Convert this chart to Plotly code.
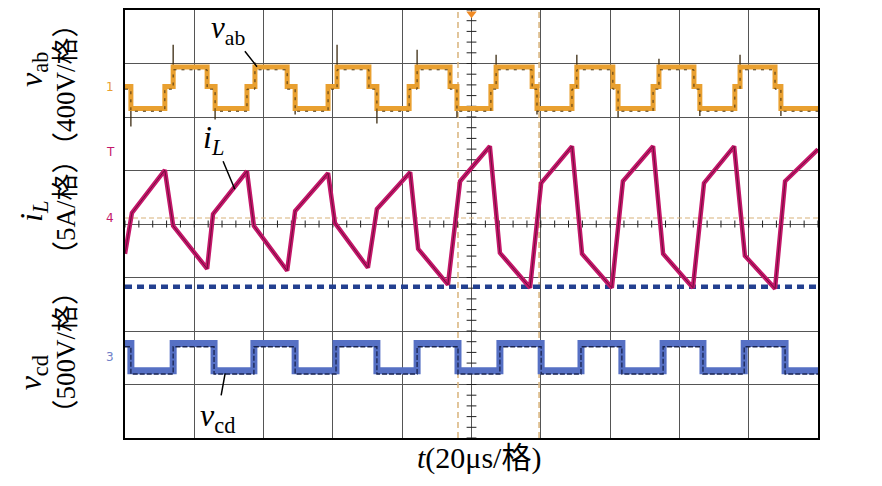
import plotly.graph_objects as go

# ---------------- data (oscilloscope capture, 20 us/div) ----------------
# v_ab : three-level voltage, 400 V/div
vab_times = [0, 1.7, 11.5, 13.9, 23.7, 26.0, 35.2, 37.5, 46.8, 49.1, 58.6, 61.2,
             70.4, 72.7, 82.0, 84.3, 93.8, 95.8, 105.6, 107.1, 117.5, 118.9,
             129.0, 130.4, 140.8, 142.3, 152.4, 154.1, 164.2, 165.9, 176.0,
             177.5, 187.6, 189.3, 200]
vab_volts = [0, -165, 0, 145, 0, -165, 0, 145, 0, -165, 0, 145,
             0, -165, 0, 145, 0, -165, 0, 145, 0, -165,
             0, 145, 0, -165, 0, 145, 0, -165, 0,
             145, 0, -165, -165]
# switching overshoot spikes of v_ab
vab_spike_times = [1.7, 13.9, 26.0, 37.5, 49.1, 61.2, 72.7, 84.3, 95.8, 107.1,
                   118.9, 130.4, 142.3, 154.1, 165.9, 177.5, 189.3]
vab_spike_base = [0, 0, 0, 0, 0, 0, 0, 0, 0, 0, 0, 0, 0, 0, 0, 0, 0]
vab_spike_peak = [-299, 312, -247, 180, -210, 312, -276, 274, -230, 237,
                  -210, 237, -231, 207, -220, 237, -220]

# i_L : inductor current, 5 A/div
iL_times = [0, 2.0, 11.5, 13.9, 23.7, 25.4, 35.2, 37.2, 46.8, 49.1, 58.6, 60.6,
            70.1, 72.7, 82.3, 84.6, 93.2, 96.7, 105.3, 108.2, 116.9, 120.1,
            129.0, 131.9, 140.5, 143.7, 152.4, 155.3, 163.9, 167.1, 175.8,
            178.9, 187.6, 190.5, 200]
iL_amps = [-3.35, 0.47, 4.47, -0.74, -4.74, 0.37, 4.37, -0.74, -4.93, 0.65, 4.19, -0.47,
           -4.65, 0.84, 4.28, -2.88, -6.23, 3.44, 6.70, -3.26, -6.51, 3.26,
           6.70, -3.35, -6.51, 3.44, 6.70, -3.35, -6.51, 3.26, 6.70,
           -3.53, -6.60, 3.44, 6.42]
iL_ref_amps = -6.42          # blue dashed reference level

# v_cd : square-wave voltage, 500 V/div
vcd_times = [0, 1.7, 13.9, 25.7, 37.2, 49.1, 60.9, 72.7, 84.3, 96.1, 108.2,
             120.1, 131.6, 143.4, 155.3, 166.8, 178.7, 190.5, 200]
vcd_volts = [128, -127, 128, -127, 128, -127, 128, -127, 128, -127, 128,
             -127, 128, -127, 128, -127, 128, -127, -127]

cursor_times = [96.1, 119.5]
trigger_time = 100

# scope channel settings (scale per div, ground offset in div)
VAB_SCALE, VAB_OFFSET = 400, 2.57
IL_SCALE, IL_OFFSET = 5, 0.112
VCD_SCALE, VCD_OFFSET = 500, -2.49
TRIG_LEVEL_DIV = 1.06

T_RANGE = [0, 200]
DIV_RANGE = [-4, 4]

ORANGE = "#E9A030"
MAGENTA = "#C4176A"
BLUE = "#5670C4"
NAVY = "#23408F"
TAN = "#D8B27A"
SERIF = "Liberation Serif, Times New Roman, Noto Sans CJK SC, serif"


def to_div(vals, scale, offset):
    return [v / scale + offset for v in vals]


fig = go.Figure()

# cursors and reference lines
for ct in cursor_times:
    fig.add_trace(go.Scatter(x=[ct, ct], y=DIV_RANGE, mode="lines",
                             line=dict(color=TAN, width=1.5, dash="6px,4px"),
                             hoverinfo="skip", showlegend=False))
fig.add_trace(go.Scatter(x=T_RANGE, y=[IL_OFFSET, IL_OFFSET], mode="lines",
                         line=dict(color=TAN, width=1.2, dash="5px,3px"),
                         hoverinfo="skip", showlegend=False))

# center-line minor ticks
minor_y = [i / 5 for i in range(-20, 21)]
minor_x = [i * 4 for i in range(0, 51)]
fig.add_trace(go.Scatter(x=[100] * len(minor_y), y=minor_y, mode="markers",
                         marker=dict(symbol="line-ew", size=7, line=dict(color="#222", width=1)),
                         hoverinfo="skip", showlegend=False))
fig.add_trace(go.Scatter(x=minor_x, y=[0] * len(minor_x), mode="markers",
                         marker=dict(symbol="line-ns", size=5, line=dict(color="#222", width=1)),
                         hoverinfo="skip", showlegend=False))

# v_ab
sx, sy = [], []
for t, b, p in zip(vab_spike_times, vab_spike_base, vab_spike_peak):
    sx += [t, t, None]
    sy += [b / VAB_SCALE + VAB_OFFSET, p / VAB_SCALE + VAB_OFFSET, None]
fig.add_trace(go.Scatter(x=sx, y=sy, mode="lines", line=dict(color="#3a2a10", width=1.3),
                         hoverinfo="skip", showlegend=False))
fig.add_trace(go.Scatter(x=vab_times, y=to_div(vab_volts, VAB_SCALE, VAB_OFFSET),
                         mode="lines", line=dict(color=ORANGE, width=5, shape="hv"),
                         showlegend=False))
fig.add_trace(go.Scatter(x=vab_times, y=[v - 0.05 for v in to_div(vab_volts, VAB_SCALE, VAB_OFFSET)],
                         mode="lines", line=dict(color="#4a3410", width=1, shape="hv", dash="3px,5px"),
                         hoverinfo="skip", showlegend=False))

# i_L reference (blue dashed)
fig.add_trace(go.Scatter(x=T_RANGE, y=to_div([iL_ref_amps] * 2, IL_SCALE, IL_OFFSET),
                         mode="lines", line=dict(color=NAVY, width=4.5, dash="7px,5px"),
                         hoverinfo="skip", showlegend=False))

# i_L
fig.add_trace(go.Scatter(x=iL_times, y=to_div(iL_amps, IL_SCALE, IL_OFFSET), mode="lines",
                         line=dict(color=MAGENTA, width=4.5), showlegend=False))
fig.add_trace(go.Scatter(x=iL_times, y=to_div(iL_amps, IL_SCALE, IL_OFFSET), mode="lines",
                         line=dict(color="#5a0a30", width=0.8), hoverinfo="skip", showlegend=False))

# v_cd
fig.add_trace(go.Scatter(x=vcd_times, y=to_div(vcd_volts, VCD_SCALE, VCD_OFFSET), mode="lines",
                         line=dict(color=BLUE, width=7, shape="hv"), showlegend=False))
fig.add_trace(go.Scatter(x=vcd_times, y=[v - 0.06 for v in to_div(vcd_volts, VCD_SCALE, VCD_OFFSET)],
                         mode="lines", line=dict(color="#1a2450", width=1.3, shape="hv", dash="5px,2px"),
                         hoverinfo="skip", showlegend=False))

# channel ground markers (left edge) and trigger markers
fig.add_trace(go.Scatter(
    x=[-1.0, -1.0, -1.0, -1.2], y=[VAB_OFFSET, TRIG_LEVEL_DIV, IL_OFFSET, VCD_OFFSET],
    mode="markers", cliponaxis=False,
    marker=dict(symbol="triangle-right", size=8, color=[ORANGE, MAGENTA, MAGENTA, BLUE]),
    hoverinfo="skip", showlegend=False))
fig.add_trace(go.Scatter(x=[trigger_time], y=[3.93], mode="markers", cliponaxis=False,
                         marker=dict(symbol="triangle-down", size=9, color="#F08A24"),
                         hoverinfo="skip", showlegend=False))

annotations = []
for txt, yv, col in [("1", VAB_OFFSET, ORANGE), ("T", TRIG_LEVEL_DIV + 0.28, MAGENTA),
                     ("4", IL_OFFSET, MAGENTA), ("3", VCD_OFFSET, "#7080C8")]:
    annotations.append(dict(x=-0.021, xref="paper", y=yv, yref="y", text=txt, showarrow=False,
                            font=dict(family="DejaVu Sans", size=12, color=col),
                            xanchor="center", yanchor="middle"))

# waveform labels with pointer lines
annotations += [
    dict(x=38.1, y=2.94, xref="x", yref="y", text="<i>v</i><sub>ab</sub>",
         showarrow=True, arrowhead=0, arrowwidth=1.5, arrowcolor="black", ax=-29, ay=-37,
         font=dict(family=SERIF, size=31, color="black")),
    dict(x=31.7, y=0.651, xref="x", yref="y", text="<i>i<sub>L</sub></i>",
         showarrow=True, arrowhead=0, arrowwidth=1.5, arrowcolor="black", ax=-21, ay=-50,
         font=dict(family=SERIF, size=32, color="black")),
    dict(x=28.9, y=-2.79, xref="x", yref="y", text="<i>v</i><sub>cd</sub>",
         showarrow=True, arrowhead=0, arrowwidth=1.5, arrowcolor="black", ax=-8, ay=44,
         font=dict(family=SERIF, size=32, color="black")),
]

# left axis labels (rotated)
sym_labels = ["<i>v</i><sub>ab</sub>", "<i>i<sub>L</sub></i>", "<i>v</i><sub>cd</sub>"]
unit_labels = ["（400V/格）", "（5A/格）", "（500V/格）"]
sym_y = [0.862, 0.530, 0.153]
unit_y = [0.825, 0.540, 0.200]
for s, u, ys, yu in zip(sym_labels, unit_labels, sym_y, unit_y):
    annotations.append(dict(x=-0.133, y=ys, xref="paper", yref="paper", text=s, textangle=-90,
                            showarrow=False, xanchor="center", yanchor="middle",
                            font=dict(family=SERIF, size=32, color="black")))
    annotations.append(dict(x=-0.0851, y=yu, xref="paper", yref="paper", text=u, textangle=-90,
                            showarrow=False, xanchor="center", yanchor="middle",
                            font=dict(family=SERIF, size=27, color="black")))

annotations.append(dict(x=0.511, y=-0.047, xref="paper", yref="paper",
                        text="<i>t</i>(20μs/格)", showarrow=False,
                        xanchor="center", yanchor="middle",
                        font=dict(family=SERIF, size=30, color="black")))

# the page body keeps an 8 px default margin, so the margins compensate for it
fig.update_layout(
    width=882, height=486,
    margin=dict(l=117, r=72, t=0, b=56),
    paper_bgcolor="white", plot_bgcolor="white",
    annotations=annotations,
    xaxis=dict(range=T_RANGE, dtick=20, tick0=0, showgrid=True, gridcolor="#555555", gridwidth=1.2,
               showticklabels=False, ticks="", zeroline=False, showline=True, mirror=True,
               linecolor="black", linewidth=2, fixedrange=True),
    yaxis=dict(range=DIV_RANGE, dtick=1, tick0=0, showgrid=True, gridcolor="#555555", gridwidth=1.2,
               showticklabels=False, ticks="", zeroline=False, showline=True, mirror=True,
               linecolor="black", linewidth=2, fixedrange=True),
)

fig.write_html("out.html")
